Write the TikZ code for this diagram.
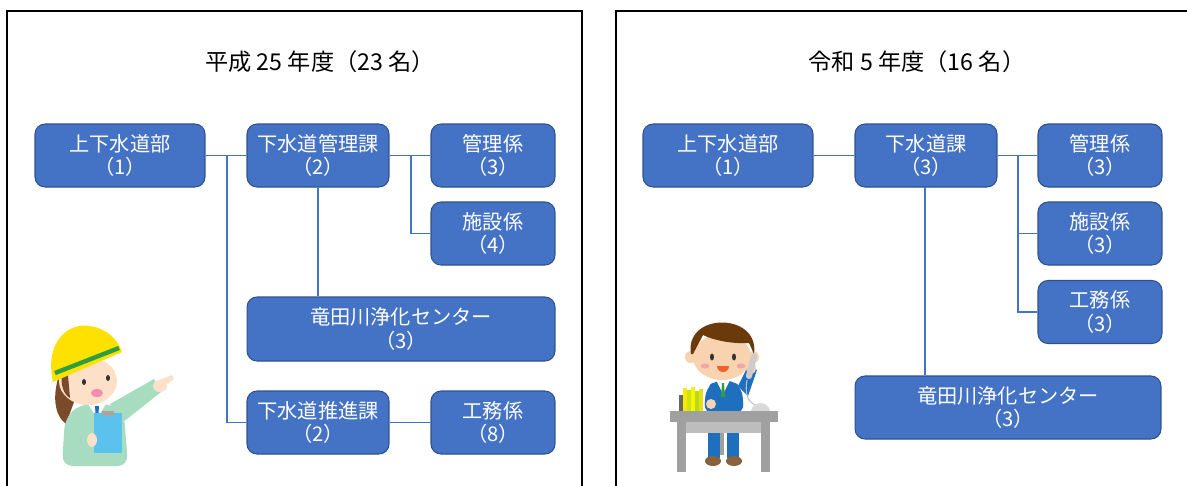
\documentclass[tikz,border=0pt]{standalone}
\usepackage{fontspec}
\setmainfont{Noto Sans CJK JP}

\definecolor{orgblue}{HTML}{4472C4}
\definecolor{orgedge}{HTML}{2F528F}
\definecolor{helmet}{HTML}{FFE100}
\definecolor{stripe}{HTML}{2E9E3E}
\definecolor{skin}{HTML}{FCE0C8}
\definecolor{skinm}{HTML}{F9D2B0}
\definecolor{hairw}{HTML}{7A4A2A}
\definecolor{hairm}{HTML}{6B3A0B}
\definecolor{jacket}{HTML}{A7DCC0}
\definecolor{clipb}{HTML}{5BC2EE}
\definecolor{suit}{HTML}{1E70BF}
\definecolor{desk}{HTML}{A0A0A0}
\definecolor{deskfront}{HTML}{BDBDBD}
\definecolor{cheek}{HTML}{F4A6A6}
\definecolor{mouthw}{HTML}{F28CB0}
\definecolor{mouthm}{HTML}{F0602A}

\tikzset{
  post/.style={draw=orgedge, fill=orgblue, text=white, rounded corners=0.2cm,
    line width=0.6pt, minimum height=1.26cm, align=center, inner sep=0pt,
    font=\fontsize{11.5}{13.2}\selectfont},
  link/.style={draw=orgblue, line width=0.9pt},
  panel/.style={draw=black, line width=0.8pt},
  heading/.style={font=\fontsize{13.2}{15}\selectfont}
}

\begin{document}
\begin{tikzpicture}[x=0.02cm, y=-0.02cm]
  \clip (0,0) rectangle (1187,485);
  \def\rowa{155.5}
  \def\rowb{233.5}
  \def\wbu{3.4cm}
  \def\wka{2.84cm}
  \def\wkk{2.48cm}

  % Panels
  \draw[panel] (7,11) rectangle (582,520);
  \draw[panel] (616,11) rectangle (1220,520);
  \node[heading] (head1) at (320,62) {平成 25 年度（23 名）};
  \node[heading] (head2) at (917,62) {令和 5 年度（16 名）};

  % Left chart
  \node[post, minimum width=\wbu] (bu1) at (120,\rowa) {上下水道部\\（1）};
  \node[post, minimum width=\wka] (kanri1) at (318,\rowa) {下水道管理課\\（2）};
  \node[post, minimum width=\wkk] (kk1) at (493,\rowa) {管理係\\（3）};
  \node[post, minimum width=\wkk] (shisetsu1) at (493,\rowb) {施設係\\（4）};
  \node[post, minimum width=6.16cm, minimum height=1.28cm] (center1) at (401,329) {竜田川浄化センター\\（3）};
  \node[post, minimum width=\wka] (suishin1) at (318,422.5) {下水道推進課\\（2）};
  \node[post, minimum width=\wkk] (koumu1) at (493,422.5) {工務係\\（8）};

  \coordinate (j1) at (227,\rowa);
  \coordinate (j2) at (411,\rowa);
  \draw[link] (bu1.east) -- (kanri1.west);
  \draw[link] (j1) |- (suishin1.west);
  \draw[link] (kanri1.east) -- (kk1.west);
  \draw[link] (j2) |- (shisetsu1.west);
  \draw[link] (kanri1.south) -- (kanri1.south |- center1.north);
  \draw[link] (suishin1.east) -- (koumu1.west);

  % Right chart
  \node[post, minimum width=\wbu] (bu2) at (728,\rowa) {上下水道部\\（1）};
  \node[post, minimum width=\wka] (ka2) at (926,\rowa) {下水道課\\（3）};
  \node[post, minimum width=\wkk] (kk2) at (1100,\rowa) {管理係\\（3）};
  \node[post, minimum width=\wkk] (shisetsu2) at (1100,\rowb) {施設係\\（3）};
  \node[post, minimum width=\wkk] (koumu2) at (1100,312) {工務係\\（3）};
  \node[post, minimum width=6.12cm] (center2) at (1008,407.5) {竜田川浄化センター\\（3）};

  \coordinate (j3) at (1018,\rowa);
  \coordinate (j4) at (925,187);
  \draw[link] (bu2.east) -- (ka2.west);
  \draw[link] (ka2.east) -- (kk2.west);
  \draw[link] (j3) |- (shisetsu2.west);
  \draw[link] (j3) |- (koumu2.west);
  \draw[link] (j4) -- (j4 |- center2.north);

  % Worker with helmet
  \fill[hairw] (60,372) .. controls (52,395) and (54,415) .. (66,424) -- (74,402) -- cycle;
  \fill[jacket, rounded corners=6] (62,466) -- (65,418) -- (80,404) -- (112,404) -- (124,413) -- (128,466) -- cycle;
  \fill[white] (88,404) -- (106,404) -- (97,418) -- cycle;
  \fill[suit] (95,406) -- (99,406) -- (98,420) -- (96,420) -- cycle;
  \fill[jacket] (110,404) -- (154,379) -- (161,392) -- (122,423) -- cycle;
  \fill[skin] (160,386) ellipse [x radius=7, y radius=6];
  \fill[skin] (157,381) -- (172,375) -- (174,379) -- (162,388) -- cycle;
  \fill[skin] (88,381) ellipse [x radius=29, y radius=24];
  \fill[hairw] (62,372) .. controls (60,385) and (64,395) .. (70,398) -- (68,375) -- cycle;
  \fill[black!80] (84,382) ellipse [x radius=2, y radius=3];
  \fill[black!80] (108,378) ellipse [x radius=2, y radius=3];
  \fill[mouthw] (97,393) ellipse [x radius=6, y radius=4];
  \fill[helmet] (53,382) .. controls (44,340) and (70,322) .. (90,326)
    .. controls (108,329) and (118,340) .. (122,352) -- cycle;
  \draw[stripe, line width=2.5pt] (55,373) -- (119,348);
  \fill[clipb] (94,413) rectangle (122,453);
  \fill[black!35] (102,411) rectangle (114,416);
  \fill[skin] (92,440) ellipse [x radius=5, y radius=7];

  % Clerk at desk
  \fill[desk] (720,425) rectangle (724,455);
  \fill[skinm] (691,357) circle (6);
  \fill[skinm] (753,357) circle (6);
  \fill[skinm] (722,357) ellipse [x radius=29, y radius=23];
  \fill[hairm] (691,354) .. controls (684,312) and (760,312) .. (754,354)
    -- (749,343) .. controls (735,344) and (715,341) .. (703,335)
    -- (693,354) -- cycle;
  \fill[black!80] (712,357) ellipse [x radius=2, y radius=3.5];
  \fill[black!80] (734,357) ellipse [x radius=2, y radius=3.5];
  \fill[cheek] (705,366) ellipse [x radius=4.5, y radius=2.5];
  \fill[cheek] (741,366) ellipse [x radius=4.5, y radius=2.5];
  \fill[mouthm] (717,366) arc [start angle=180, end angle=0, radius=6] -- cycle;
  \fill[suit, rounded corners=5] (704,413) -- (706,388) -- (716,380) -- (732,380) -- (742,388) -- (744,413) -- cycle;
  \fill[white] (716,380) -- (730,380) -- (723,394) -- cycle;
  \fill[stripe] (722,383) -- (724,383) -- (725,397) -- (721,397) -- cycle;
  \fill[suit] (738,386) -- (748,366) -- (757,370) -- (748,396) -- cycle;
  \fill[skinm] (751,368) ellipse [x radius=5, y radius=6];
  \draw[black!20, line width=3.5pt, line cap=round] (754,356) -- (749,376);
  \draw[black!25, line width=0.6pt] (747,380) .. controls (744,398) and (750,404) .. (760,407);
  \fill[black!15] (751,411) .. controls (752,401) and (768,400) .. (770,411) -- cycle;
  \fill[skinm] (711,404) ellipse [x radius=5, y radius=5];
  \fill[black!60] (679,395) rectangle (683,411);
  \fill[yellow!90!orange] (683,388) rectangle (687,411);
  \fill[yellow!80!green] (687,390) rectangle (691,411);
  \fill[yellow] (691,387) rectangle (695,411);
  \fill[yellow!70!green] (695,391) rectangle (699,411);
  \fill[yellow!90!black] (699,389) rectangle (703,411);
  \fill[desk] (670,411) rectangle (778,422);
  \fill[deskfront] (686,422) rectangle (761,433);
  \fill[desk] (677,422) rectangle (686,472);
  \fill[desk] (761,422) rectangle (770,472);
  \fill[suit] (708,433) rectangle (720,458);
  \fill[suit] (727,433) rectangle (739,458);
  \fill[hairm!80] (713,461) ellipse [x radius=8, y radius=5];
  \fill[hairm!80] (734,461) ellipse [x radius=8, y radius=5];
\end{tikzpicture}
\end{document}
